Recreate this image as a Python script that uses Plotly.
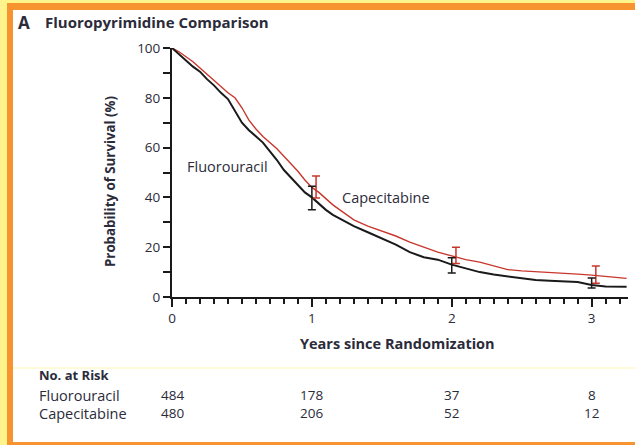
import plotly.graph_objects as go

# ---------------- data ----------------
years = [0, 0.05, 0.1, 0.15, 0.2, 0.25, 0.3, 0.35, 0.4, 0.45, 0.5, 0.55, 0.6, 0.65, 0.7,
         0.75, 0.8, 0.85, 0.9, 0.95, 1.0, 1.05, 1.1, 1.15, 1.2, 1.3, 1.4, 1.5, 1.6, 1.7,
         1.8, 1.9, 2.0, 2.1, 2.2, 2.3, 2.4, 2.5, 2.6, 2.7, 2.8, 2.9, 3.0, 3.1, 3.25]
fluorouracil = [100, 97.5, 95, 92.5, 90.5, 87.5, 85, 82, 79.5, 74.5, 70, 67, 64.5, 62, 58.5,
                55, 51, 48, 45, 42, 40, 37.5, 35, 33, 31.5, 28.5, 26, 23.5, 21, 18,
                16, 15, 13, 11.5, 10, 9, 8.2, 7.5, 6.8, 6.5, 6.2, 6.0, 4.8, 4.2, 4.1]
capecitabine = [100, 98.5, 96.5, 94.5, 92, 89.5, 87, 84.5, 82, 80, 76, 71, 67.5, 64.5, 62,
                59.5, 56.5, 53.5, 50.5, 47, 44, 42, 39.5, 37, 35, 31, 28.5, 26.5, 24.5, 22,
                20, 18, 16.5, 15, 14, 12.5, 11, 10.5, 10.2, 10, 9.6, 9.2, 8.8, 8.2, 7.5]

# confidence intervals at 1, 2, 3 years
ci_x_fu = [1.0, 2.0, 3.0]
ci_y_fu = [40, 12.8, 5.0]
ci_up_fu = [4.5, 3.0, 2.6]
ci_dn_fu = [5.0, 3.2, 1.4]
ci_x_ca = [1.03, 2.03, 3.03]
ci_y_ca = [44, 16.5, 8.8]
ci_up_ca = [4.6, 3.5, 3.6]
ci_dn_ca = [4.2, 3.0, 3.3]

risk_times = [0, 1, 2, 3]
risk_fu = [484, 178, 37, 8]
risk_ca = [480, 206, 52, 12]
y_ticks = [0, 20, 40, 60, 80, 100]

BLACK = "#1a1a1a"
RED = "#c8372d"
TXT = "#2b2b3a"
FONT = "Open Sans"

fig = go.Figure()

fig.add_trace(go.Scatter(x=years, y=capecitabine, mode="lines", line_shape="linear",
                         line=dict(color=RED, width=1.4), showlegend=False))
fig.add_trace(go.Scatter(x=years, y=fluorouracil, mode="lines", line_shape="linear",
                         line=dict(color=BLACK, width=2), showlegend=False))
fig.add_trace(go.Scatter(x=ci_x_ca, y=ci_y_ca, mode="markers", marker=dict(size=1, color=RED),
                         error_y=dict(type="data", array=ci_up_ca, arrayminus=ci_dn_ca,
                                      color=RED, thickness=1.5, width=4), showlegend=False))
fig.add_trace(go.Scatter(x=ci_x_fu, y=ci_y_fu, mode="markers", marker=dict(size=1, color=BLACK),
                         error_y=dict(type="data", array=ci_up_fu, arrayminus=ci_dn_fu,
                                      color=BLACK, thickness=1.5, width=4), showlegend=False))

# plot area geometry (px): left 172, right 628, top 48, bottom 297
L, R, T, B = 172, 628, 48, 297
W, H = 635, 445
def px(x):
    return (x - L) / (R - L)
def py(y):
    return (B - y) / (B - T)

shapes = [
    dict(type="rect", xref="paper", yref="paper", x0=px(7), x1=px(645), y0=py(450), y1=py(3),
         fillcolor="#f7942f", line=dict(width=0), layer="below"),
    dict(type="rect", xref="paper", yref="paper", x0=px(13), x1=px(645), y0=py(442), y1=py(10),
         fillcolor="white", line=dict(width=0), layer="below"),
    dict(type="line", xref="paper", yref="paper", x0=px(13), x1=px(640), y0=py(368), y1=py(368),
         line=dict(color="#fff3b0", width=1), layer="below"),
]

ann = []
ann.append(dict(x=px(16), y=py(22), xref="paper", yref="paper", text="<b>A</b>", showarrow=False,
                xanchor="left", yanchor="middle", font=dict(family=FONT, size=17, color=TXT)))
ann.append(dict(x=px(43), y=py(22), xref="paper", yref="paper", text="<b>Fluoropyrimidine Comparison</b>",
                showarrow=False, xanchor="left", yanchor="middle", font=dict(family=FONT, size=15, color=TXT)))
ann.append(dict(x=px(110), y=py(182), xref="paper", yref="paper", text="<b>Probability of Survival (%)</b>",
                textangle=-90, showarrow=False, xanchor="center", yanchor="middle",
                font=dict(family=FONT, size=13.3, color=TXT)))
ann.append(dict(x=px(397), y=py(343), xref="paper", yref="paper", text="<b>Years since Randomization</b>",
                showarrow=False, xanchor="center", yanchor="middle", font=dict(family=FONT, size=14.5, color=TXT)))
ann.append(dict(x=0.09, y=52.3, xref="x", yref="y", text="Fluorouracil", showarrow=False,
                xanchor="left", yanchor="middle", font=dict(family=FONT, size=14.5, color=TXT)))
ann.append(dict(x=1.2, y=40, xref="x", yref="y", text="Capecitabine", showarrow=False,
                xanchor="left", yanchor="middle", font=dict(family=FONT, size=14.5, color=TXT)))
ann.append(dict(x=px(37), y=py(375), xref="paper", yref="paper", text="<b>No. at Risk</b>", showarrow=False,
                xanchor="left", yanchor="middle", font=dict(family=FONT, size=13, color=TXT)))
ann.append(dict(x=px(37), y=py(395), xref="paper", yref="paper", text="Fluorouracil", showarrow=False,
                xanchor="left", yanchor="middle", font=dict(family=FONT, size=14.5, color=TXT)))
ann.append(dict(x=px(37), y=py(413), xref="paper", yref="paper", text="Capecitabine", showarrow=False,
                xanchor="left", yanchor="middle", font=dict(family=FONT, size=14.5, color=TXT)))
for t, a, b in zip(risk_times, risk_fu, risk_ca):
    ann.append(dict(x=t, y=py(395), xref="x", yref="paper", text=str(a), showarrow=False,
                    xanchor="center", yanchor="middle", font=dict(family=FONT, size=13.5, color=TXT)))
    ann.append(dict(x=t, y=py(413), xref="x", yref="paper", text=str(b), showarrow=False,
                    xanchor="center", yanchor="middle", font=dict(family=FONT, size=13.5, color=TXT)))

fig.update_layout(
    width=W, height=H,
    margin=dict(l=L, r=W - R, t=T, b=H - B, pad=0),
    paper_bgcolor="#fff48c", plot_bgcolor="rgba(0,0,0,0)",
    shapes=shapes, annotations=ann,
    font=dict(family=FONT, color=TXT),
    xaxis=dict(range=[0, 3.26], tickmode="array", tickvals=risk_times, ticks="outside", ticklen=8,
               tickwidth=1.5, tickcolor=BLACK, showline=True, linecolor=BLACK, linewidth=2,
               showgrid=False, zeroline=False, tickfont=dict(family=FONT, size=13.5, color=TXT),
               minor=dict(dtick=0.1, tick0=0, ticks="outside", ticklen=5, tickwidth=1.5, tickcolor=BLACK)),
    yaxis=dict(range=[0, 100], tickmode="array", tickvals=y_ticks, ticks="outside", ticklen=7,
               tickwidth=1.5, tickcolor=BLACK, showline=True, linecolor=BLACK, linewidth=2,
               showgrid=False, zeroline=False, tickfont=dict(family=FONT, size=13.5, color=TXT),
               minor=dict(dtick=10, tick0=0, ticks="outside", ticklen=7, tickwidth=1.5, tickcolor=BLACK)),
)

fig.write_html("out.html")
